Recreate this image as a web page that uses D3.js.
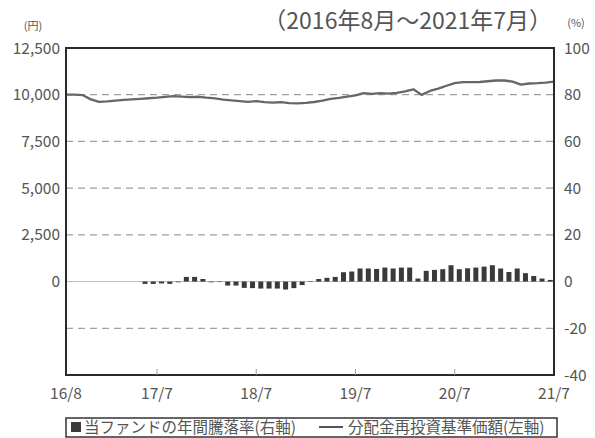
<!DOCTYPE html>
<html>
<head>
<meta charset="utf-8">
<script src="https://cdn.jsdelivr.net/npm/d3@7"></script>
<style>
  body { margin: 0; background: #fff; }
  svg text { font-family: "Noto Sans CJK JP", "Noto Sans", sans-serif; fill: #555; }
</style>
</head>
<body>
<div id="chart"></div>
<script>
// monthly NAV (dividend reinvested), 2016/8 .. 2021/7
let navValues = [
    10000, 10000, 9980, 9750, 9620, 9640, 9680, 9720, 9750, 9780,
    9810, 9840, 9880, 9920, 9900, 9870, 9890, 9840, 9800, 9740,
    9700, 9660, 9620, 9660, 9600, 9580, 9600, 9550, 9540, 9560,
    9610, 9680, 9780, 9830, 9900, 9960, 10080, 10050, 10080, 10060,
    10100, 10180, 10290, 9990, 10200, 10330, 10480, 10620, 10670, 10670,
    10680, 10720, 10760, 10760, 10700, 10540, 10600, 10620, 10650, 10700
];
// annual return (%), starting at the 11th month
let barStart = 10;
let barValues = [
    -1.0, -1.0, -0.8, -1.0, -0.3, 2.0, 2.0, 1.1, -0.3, -0.2,
    -1.7, -1.7, -2.7, -2.8, -3.0, -3.0, -3.0, -3.4, -2.8, -1.5,
    0.2, 1.1, 1.6, 2.0, 4.0, 4.3, 5.6, 5.6, 5.4, 6.0,
    5.6, 6.0, 6.0, 1.3, 4.6, 5.0, 5.3, 7.0, 5.3, 5.7,
    6.0, 6.4, 7.0, 5.6, 4.1, 5.6, 3.6, 2.4, 1.3, 0.7
];
let xTickIdx = [0, 11, 23, 35, 47, 59];
let xTickLabels = ["16/8", "17/7", "18/7", "19/7", "20/7", "21/7"];
let leftTicks = [0, 2500, 5000, 7500, 10000, 12500];
let rightTicks = [-40, -20, 0, 20, 40, 60, 80, 100];

let width = 595, height = 438;
let L = 66, R = 554, T = 48, B = 375;

let svg = d3.select("#chart").append("svg")
    .attr("width", width)
    .attr("height", height);

let x = d3.scaleLinear().domain([0, 59]).range([L, R]);
let yR = d3.scaleLinear().domain([-40, 100]).range([B, T]);
let yL = d3.scaleLinear().domain([-5000, 12500]).range([B, T]);

// grid lines
svg.append("g").selectAll("line")
    .data(rightTicks.filter(d => d != 0 && d != 100 && d != -40))
    .enter().append("line")
    .attr("x1", L).attr("x2", R)
    .attr("y1", d => yR(d)).attr("y2", d => yR(d))
    .attr("stroke", "#a0a0a0")
    .attr("stroke-width", 1.2)
    .attr("stroke-dasharray", "7,5");

svg.append("line")
    .attr("x1", L).attr("x2", R)
    .attr("y1", yR(0)).attr("y2", yR(0))
    .attr("stroke", "#b8b8b8")
    .attr("stroke-width", 1);

// bars
let barW = 5;
svg.append("g").selectAll("rect")
    .data(barValues)
    .enter().append("rect")
    .attr("x", (d, i) => x(barStart + i - 0.45) - barW / 2)
    .attr("width", barW)
    .attr("y", d => yR(Math.max(0, d)))
    .attr("height", d => Math.abs(yR(d) - yR(0)))
    .attr("fill", "#3a3a3a");

// NAV line
let line = d3.line()
    .x((d, i) => x(i))
    .y(d => yL(d));

svg.append("path")
    .datum(navValues)
    .attr("d", line)
    .attr("fill", "none")
    .attr("stroke", "#666")
    .attr("stroke-width", 2.3)
    .attr("stroke-linejoin", "round");

// frame
svg.append("rect")
    .attr("x", L).attr("y", T)
    .attr("width", R - L).attr("height", B - T)
    .attr("fill", "none")
    .attr("stroke", "#2a2a2a")
    .attr("stroke-width", 2);

// bottom ticks
svg.append("g").selectAll("line")
    .data(xTickIdx.slice(1, -1))
    .enter().append("line")
    .attr("x1", d => x(d)).attr("x2", d => x(d))
    .attr("y1", B).attr("y2", B - 6)
    .attr("stroke", "#999")
    .attr("stroke-width", 1);

// axis labels
svg.append("g").selectAll("text")
    .data(leftTicks)
    .enter().append("text")
    .attr("x", 60)
    .attr("y", d => yL(d) + 5.5)
    .attr("text-anchor", "end")
    .style("font-size", "15.5px")
    .text(d => d3.format(",")(d));

svg.append("g").selectAll("text")
    .data(rightTicks)
    .enter().append("text")
    .attr("x", 564)
    .attr("y", d => yR(d) + 5.5)
    .style("font-size", "15.5px")
    .text(d => d);

svg.append("g").selectAll("text")
    .data(xTickIdx)
    .enter().append("text")
    .attr("x", d => x(d))
    .attr("y", 399)
    .attr("text-anchor", "middle")
    .style("font-size", "15.5px")
    .text((d, i) => xTickLabels[i]);

// units and title
svg.append("text").attr("x", 33).attr("y", 30).attr("text-anchor", "middle")
    .style("font-size", "11px").text("(円)");
svg.append("text").attr("x", 576).attr("y", 27).attr("text-anchor", "middle")
    .style("font-size", "11px").text("(%)");
svg.append("text").attr("x", 552).attr("y", 29).attr("text-anchor", "end")
    .style("font-size", "23px").text("（2016年8月～2021年7月）");

// legend
svg.append("rect")
    .attr("x", 66).attr("y", 418)
    .attr("width", 491).attr("height", 19)
    .attr("fill", "none")
    .attr("stroke", "#333")
    .attr("stroke-width", 1.5);

svg.append("rect")
    .attr("x", 71).attr("y", 422)
    .attr("width", 10).attr("height", 10)
    .attr("fill", "#3a3a3a");
svg.append("text").attr("x", 84).attr("y", 432.5)
    .style("font-size", "15.5px").text("当ファンドの年間騰落率(右軸)");

svg.append("line")
    .attr("x1", 319).attr("x2", 343)
    .attr("y1", 427).attr("y2", 427)
    .attr("stroke", "#555").attr("stroke-width", 2);
svg.append("text").attr("x", 348).attr("y", 432.5)
    .style("font-size", "15.5px").text("分配金再投資基準価額(左軸)");
</script>
</body>
</html>
